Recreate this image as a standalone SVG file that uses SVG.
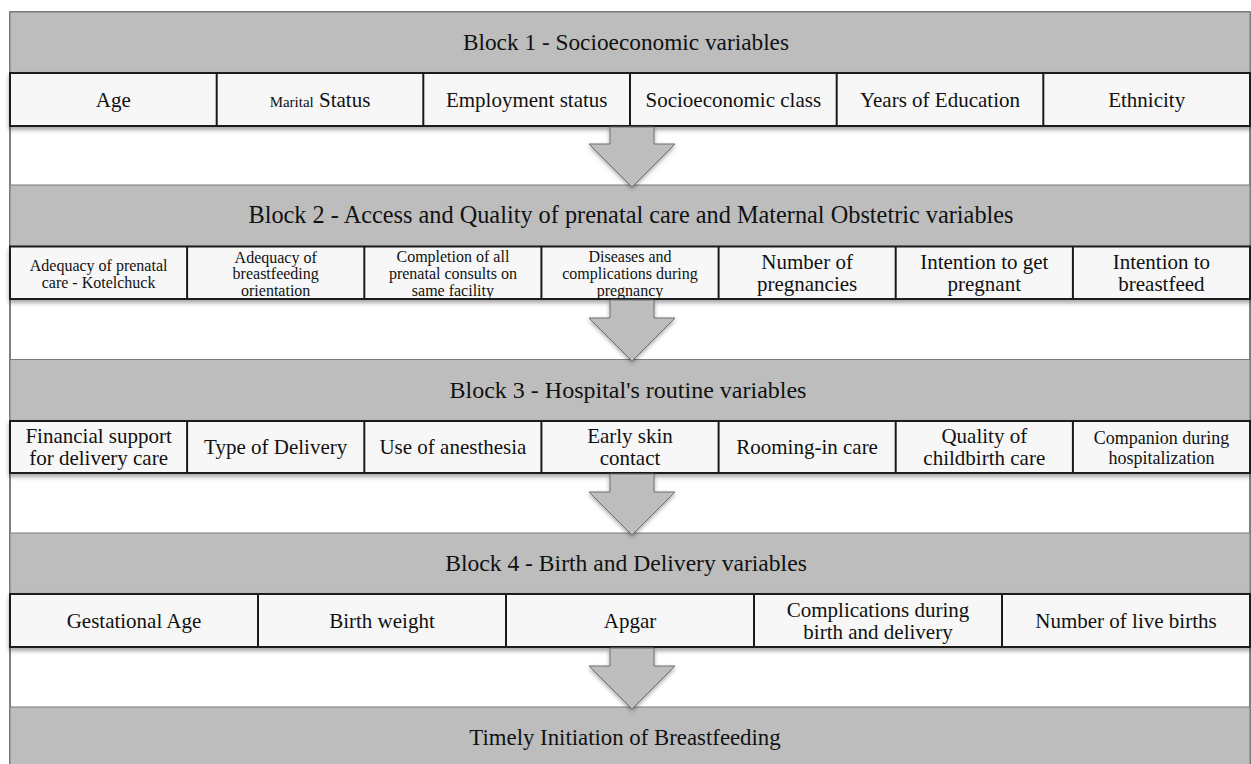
<svg xmlns="http://www.w3.org/2000/svg" width="1251" height="764" viewBox="0 0 1251 764">
<defs>
<filter id="sh" x="-5%" y="-20%" width="110%" height="160%">
<feDropShadow dx="0" dy="3" stdDeviation="2" flood-color="#000" flood-opacity="0.35"/>
</filter>
<filter id="ash" x="-20%" y="-20%" width="140%" height="150%">
<feDropShadow dx="0" dy="2" stdDeviation="2" flood-color="#000" flood-opacity="0.35"/>
</filter>
</defs>
<style>
.hdr{fill:#bdbdbd;stroke:#7a7a7a;stroke-width:1}
.row{fill:#f7f7f7;stroke:#1a1a1a;stroke-width:2}
.div{stroke:#1a1a1a;stroke-width:2}
.arr{fill:#bdbdbd;stroke:#6e6e6e;stroke-width:1}
text{font-family:"Liberation Serif","Times New Roman",serif;fill:#111;text-anchor:middle}
.h{font-size:23.3px}
.c{font-size:21px}
.s{font-size:16px}
.m{font-size:18px}
.t{font-size:15px}
</style>
<rect x="10" y="12" width="1240" height="760" fill="#fff" stroke="#555" stroke-width="1.5"/>

<g id="block1">
<rect class="hdr" x="10" y="12" width="1240" height="61"/>
<text class="h" x="626" y="50">Block 1 - Socioeconomic variables</text>
</g>
<g id="block1-vars">
<rect class="row" x="10" y="73" width="1240" height="53" filter="url(#sh)"/>
<line class="div" x1="216.7" y1="73" x2="216.7" y2="126"/>
<line class="div" x1="423.3" y1="73" x2="423.3" y2="126"/>
<line class="div" x1="630" y1="73" x2="630" y2="126"/>
<line class="div" x1="836.7" y1="73" x2="836.7" y2="126"/>
<line class="div" x1="1043.3" y1="73" x2="1043.3" y2="126"/>
<text class="c" x="113.3" y="107">Age</text>
<text class="c" x="320" y="107"><tspan class="t">Marital</tspan> Status</text>
<text class="c" x="526.7" y="107">Employment status</text>
<text class="c" x="733.3" y="107">Socioeconomic class</text>
<text class="c" x="940" y="107">Years of Education</text>
<text class="c" x="1146.7" y="107">Ethnicity</text>
</g>

<g id="block2">
<rect class="hdr" x="10" y="185" width="1240" height="61.5"/>
<text class="h" x="631" y="223" style="font-size:24.3px">Block 2 - Access and Quality of prenatal care and Maternal Obstetric variables</text>
</g>
<g id="block2-vars">
<rect class="row" x="10" y="246.5" width="1240" height="52.5" filter="url(#sh)"/>
<line class="div" x1="187.1" y1="246.5" x2="187.1" y2="299"/>
<line class="div" x1="364.3" y1="246.5" x2="364.3" y2="299"/>
<line class="div" x1="541.4" y1="246.5" x2="541.4" y2="299"/>
<line class="div" x1="718.6" y1="246.5" x2="718.6" y2="299"/>
<line class="div" x1="895.7" y1="246.5" x2="895.7" y2="299"/>
<line class="div" x1="1072.9" y1="246.5" x2="1072.9" y2="299"/>
<text class="s" x="98.6" y="271">Adequacy of prenatal</text>
<text class="s" x="98.6" y="287.5">care - Kotelchuck</text>
<text class="s" x="275.7" y="262.5">Adequacy of</text>
<text class="s" x="275.7" y="279.2">breastfeeding</text>
<text class="s" x="275.7" y="295.9">orientation</text>
<text class="s" x="452.9" y="262.3">Completion of all</text>
<text class="s" x="452.9" y="279">prenatal consults on</text>
<text class="s" x="452.9" y="295.7">same facility</text>
<text class="s" x="630" y="261.8">Diseases and</text>
<text class="s" x="630" y="278.5">complications during</text>
<text class="s" x="630" y="295.5">pregnancy</text>
<text class="c" x="807.1" y="269">Number of</text>
<text class="c" x="807.1" y="291">pregnancies</text>
<text class="c" x="984.3" y="269">Intention to get</text>
<text class="c" x="984.3" y="291">pregnant</text>
<text class="c" x="1161.4" y="269">Intention to</text>
<text class="c" x="1161.4" y="291">breastfeed</text>
</g>

<g id="block3">
<rect class="hdr" x="10" y="359.5" width="1240" height="61.5"/>
<text class="h" x="628" y="398" style="font-size:24px">Block 3 - Hospital's routine variables</text>
</g>
<g id="block3-vars">
<rect class="row" x="10" y="421" width="1240" height="52" filter="url(#sh)"/>
<line class="div" x1="187.1" y1="421" x2="187.1" y2="473"/>
<line class="div" x1="364.3" y1="421" x2="364.3" y2="473"/>
<line class="div" x1="541.4" y1="421" x2="541.4" y2="473"/>
<line class="div" x1="718.6" y1="421" x2="718.6" y2="473"/>
<line class="div" x1="895.7" y1="421" x2="895.7" y2="473"/>
<line class="div" x1="1072.9" y1="421" x2="1072.9" y2="473"/>
<text class="c" x="98.6" y="443">Financial support</text>
<text class="c" x="98.6" y="464.5">for delivery care</text>
<text class="c" x="275.7" y="454">Type of Delivery</text>
<text class="c" x="452.9" y="454">Use of anesthesia</text>
<text class="c" x="630" y="443">Early skin</text>
<text class="c" x="630" y="464.5">contact</text>
<text class="c" x="807.1" y="454">Rooming-in care</text>
<text class="c" x="984.3" y="443">Quality of</text>
<text class="c" x="984.3" y="464.5">childbirth care</text>
<text class="m" x="1161.4" y="443.5">Companion during</text>
<text class="m" x="1161.4" y="463.5">hospitalization</text>
</g>

<g id="block4">
<rect class="hdr" x="10" y="533" width="1240" height="61"/>
<text class="h" x="626" y="571" style="font-size:23.6px">Block 4 - Birth and Delivery variables</text>
</g>
<g id="block4-vars">
<rect class="row" x="10" y="594" width="1240" height="53" filter="url(#sh)"/>
<line class="div" x1="258" y1="594" x2="258" y2="647"/>
<line class="div" x1="506" y1="594" x2="506" y2="647"/>
<line class="div" x1="754" y1="594" x2="754" y2="647"/>
<line class="div" x1="1002" y1="594" x2="1002" y2="647"/>
<text class="c" x="134" y="628">Gestational Age</text>
<text class="c" x="382" y="628">Birth weight</text>
<text class="c" x="630" y="628">Apgar</text>
<text class="c" x="878" y="617">Complications during</text>
<text class="c" x="878" y="639">birth and delivery</text>
<text class="c" x="1126" y="628">Number of live births</text>
</g>

<g id="outcome">
<rect class="hdr" x="10" y="707" width="1240" height="70"/>
<text class="h" x="625" y="745" style="font-size:22.8px">Timely Initiation of Breastfeeding</text>
</g>

<g id="connectors">
<path class="arr" filter="url(#ash)" d="M610,127 L654,127 L654,144 L675,144 L632,187 L589,144 L610,144 Z"/>
<path class="arr" filter="url(#ash)" d="M610,300 L654,300 L654,318 L675,318 L632,361 L589,318 L610,318 Z"/>
<path class="arr" filter="url(#ash)" d="M610,474 L654,474 L654,492 L675,492 L632,535 L589,492 L610,492 Z"/>
<path class="arr" filter="url(#ash)" d="M610,648 L654,648 L654,666 L675,666 L632,709 L589,666 L610,666 Z"/>
</g>
</svg>
